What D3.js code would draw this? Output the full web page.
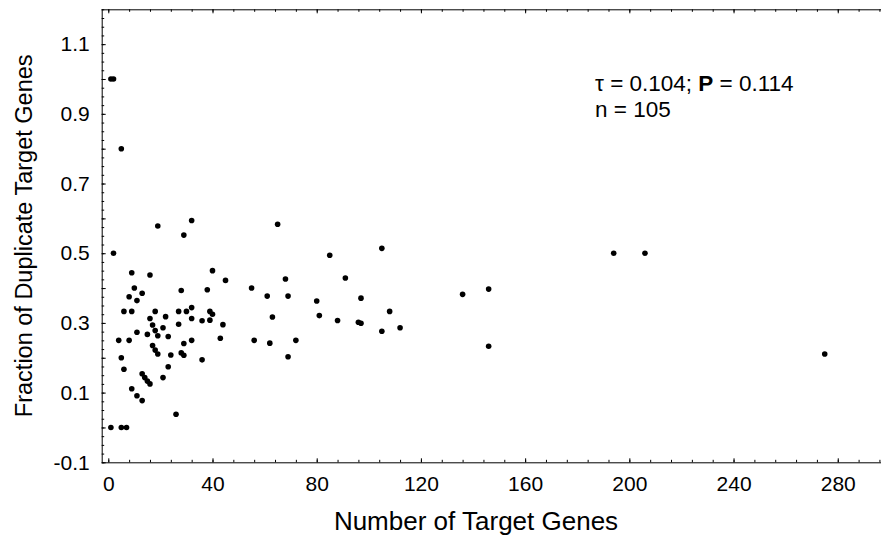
<!DOCTYPE html>
<html>
<head>
<meta charset="utf-8">
<script src="https://cdn.jsdelivr.net/npm/d3@7"></script>
<style>
  body { margin: 0; background: #fff; }
  svg { display: block; font-family: "Liberation Sans", Arial, Helvetica, sans-serif; }
  .axis path, .axis line { stroke: #000; stroke-width: 1; }
  .axis text { font-size: 21px; fill: #000; font-family: "Liberation Sans", Arial, sans-serif; }
</style>
</head>
<body>
<svg id="chart"></svg>
<script>
// number of target genes per regulator
let geneCounts = [1, 2, 5, 2, 1, 5, 7, 19, 32, 29, 9, 16, 10, 28, 8, 13, 11, 6, 9, 18,
  27, 30, 32, 16, 22, 32, 17, 18, 21, 27, 11, 15, 19, 23, 4, 8, 32, 29, 17, 18,
  19, 24, 28, 29, 5, 23, 6, 13, 14, 15, 16, 21, 9, 11, 13, 26, 65, 40, 45, 38,
  55, 68, 61, 69, 39, 40, 36, 39, 63, 44, 43, 56, 62, 72, 69, 36, 85, 105, 91, 80,
  97, 81, 88, 96, 97, 108, 105, 112, 136, 146, 146, 194, 206, 275];

// fraction of those targets that are duplicate genes
let dupFractions = [1.0, 1.0, 0.8, 0.5, 0, 0, 0, 0.578, 0.594, 0.552, 0.444, 0.4375, 0.4, 0.393, 0.375, 0.385, 0.364, 0.333, 0.333, 0.333,
  0.333, 0.333, 0.344, 0.3125, 0.318, 0.3125, 0.294, 0.278, 0.286, 0.296, 0.273, 0.267, 0.263, 0.261, 0.25, 0.25, 0.25, 0.241, 0.235, 0.222,
  0.211, 0.208, 0.214, 0.207, 0.2, 0.174, 0.167, 0.154, 0.143, 0.133, 0.125, 0.143, 0.111, 0.091, 0.077, 0.038, 0.583, 0.45, 0.422, 0.395,
  0.4, 0.426, 0.377, 0.377, 0.333, 0.325, 0.306, 0.308, 0.317, 0.295, 0.256, 0.25, 0.242, 0.25, 0.203, 0.194, 0.494, 0.514, 0.429, 0.363,
  0.371, 0.321, 0.307, 0.302, 0.299, 0.333, 0.276, 0.286, 0.382, 0.397, 0.233, 0.5, 0.5, 0.211];

let xTickLabels = [0, 40, 80, 120, 160, 200, 240, 280];
let yTickLabels = [-0.1, 0.1, 0.3, 0.5, 0.7, 0.9, 1.1];

let svgWidth = 881, svgHeight = 539;
let plotLeft = 101.7, plotRight = 881, plotTop = 9.3, plotBottom = 462.3;

let svg = d3.select('#chart')
            .attr('width', svgWidth)
            .attr('height', svgHeight);

let x = d3.scaleLinear().domain([-2.53, 296.6]).range([plotLeft, plotRight]);
let y = d3.scaleLinear().domain([-0.1, 1.2]).range([plotBottom, plotTop]);

let xMinor = d3.range(0, 297, 8);
let yMinor = d3.range(-4, 49).map(i => +(i * 0.025).toFixed(3));
let yMajor = d3.range(-1, 12).map(i => +(i * 0.1).toFixed(1));

// bottom axis: minor then major with labels
svg.append('g').attr('class', 'axis')
   .attr('transform', 'translate(0,' + plotBottom + ')')
   .call(d3.axisBottom(x).tickValues(xMinor).tickSize(-2.5).tickFormat(''))
   .call(g => g.select('.domain').remove());
svg.append('g').attr('class', 'axis')
   .attr('transform', 'translate(0,' + plotBottom + ')')
   .call(d3.axisBottom(x).tickValues(xTickLabels).tickSizeInner(-4).tickSizeOuter(0).tickPadding(14).tickFormat(d3.format('d')))
   .call(g => g.select('.domain').attr('d', 'M' + plotLeft + ',0.5H' + plotRight));

// top frame
svg.append('g').attr('class', 'axis')
   .attr('transform', 'translate(0,' + plotTop + ')')
   .call(d3.axisTop(x).tickValues(xMinor).tickSize(-2.5).tickFormat(''))
   .call(g => g.select('.domain').remove());
svg.append('g').attr('class', 'axis')
   .attr('transform', 'translate(0,' + plotTop + ')')
   .call(d3.axisTop(x).tickValues(xTickLabels).tickSizeInner(-4).tickSizeOuter(0).tickFormat(''))
   .call(g => g.select('.domain').attr('d', 'M' + plotLeft + ',0.5H' + plotRight));

// left axis
svg.append('g').attr('class', 'axis')
   .attr('transform', 'translate(' + plotLeft + ',0)')
   .call(d3.axisLeft(y).tickValues(yMinor).tickSize(-2.5).tickFormat(''))
   .call(g => g.select('.domain').remove());
svg.append('g').attr('class', 'axis')
   .attr('transform', 'translate(' + plotLeft + ',0)')
   .call(d3.axisLeft(y).tickValues(yMajor).tickSizeInner(-4).tickSizeOuter(0).tickPadding(12)
     .tickFormat(d => yTickLabels.some(v => Math.abs(v - d) < 1e-6) ? d.toFixed(1) : ''))
   .call(g => g.select('.domain').attr('d', 'M0.5,' + plotTop + 'V' + plotBottom));

// points
svg.selectAll('circle.pt')
   .data(geneCounts)
   .enter()
   .append('circle')
   .attr('class', 'pt')
   .attr('cx', d => x(d))
   .attr('cy', (d, i) => y(dupFractions[i]))
   .attr('r', 2.8)
   .attr('fill', '#000');

// axis titles
svg.append('text')
   .attr('x', 476).attr('y', 530)
   .attr('text-anchor', 'middle')
   .attr('font-size', 26)
   .text('Number of Target Genes');

svg.append('text')
   .attr('transform', 'translate(32,' + ((plotTop + plotBottom) / 2) + ') rotate(-90)')
   .attr('text-anchor', 'middle')
   .attr('font-size', 23.5)
   .text('Fraction of Duplicate Target Genes');

// stats note
let note = svg.append('text').attr('x', 595).attr('y', 90.5).attr('font-size', 22.5);
note.append('tspan').text('\u03c4 = 0.104; ');
note.append('tspan').attr('font-weight', 'bold').text('P');
note.append('tspan').text(' = 0.114');
svg.append('text').attr('x', 595).attr('y', 116.5).attr('font-size', 22.5).text('n = 105');
</script>
</body>
</html>
